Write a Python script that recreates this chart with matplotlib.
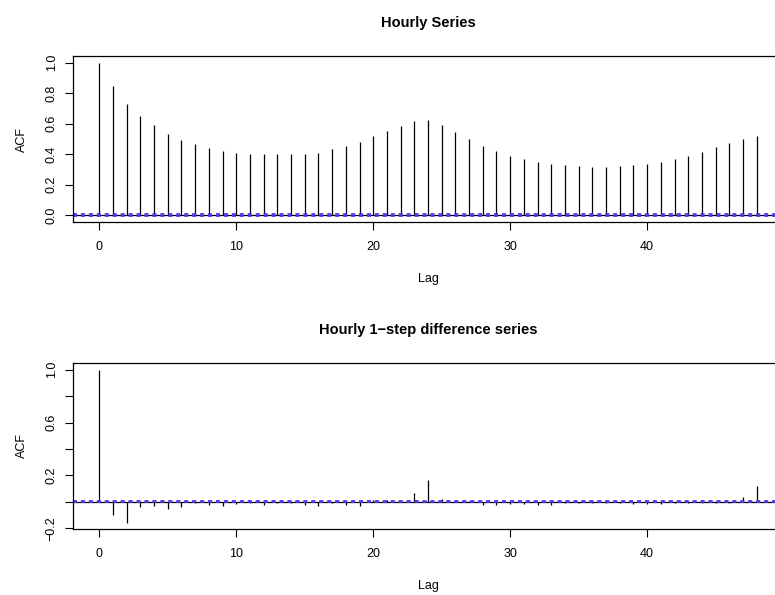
import matplotlib
matplotlib.use("Agg")
import matplotlib.pyplot as plt
import numpy as np

plt.rcParams['font.family'] = ['Liberation Sans', 'DejaVu Sans']

lags = list(range(49))
acf_hourly = [1.000, 0.849, 0.729, 0.652, 0.589, 0.532, 0.492, 0.464, 0.438, 0.418,
              0.407, 0.400, 0.398, 0.398, 0.398, 0.400, 0.409, 0.431, 0.451, 0.479,
              0.519, 0.554, 0.582, 0.615, 0.626, 0.589, 0.543, 0.497, 0.455, 0.420,
              0.389, 0.367, 0.346, 0.333, 0.326, 0.319, 0.317, 0.317, 0.319, 0.326,
              0.333, 0.346, 0.367, 0.387, 0.416, 0.444, 0.470, 0.501, 0.519]
acf_diff = [1.000, -0.101, -0.160, -0.038, -0.028, -0.053, -0.038, -0.008, -0.025, -0.031,
            -0.013, -0.008, -0.020, -0.006, -0.006, -0.025, -0.033, -0.005, -0.020, -0.031,
            0.012, 0.018, 0.005, 0.068, 0.163, 0.024, 0.004, 0.003, -0.021, -0.026,
            -0.015, -0.015, -0.025, -0.023, -0.006, -0.005, -0.006, -0.005, -0.008, -0.018,
            -0.019, -0.017, -0.006, -0.010, -0.006, -0.005, -0.006, 0.039, 0.121]
ci_hourly = 0.004
ci_diff = 0.004

titles = ["Hourly Series", "Hourly 1\u2212step difference series"]
xticks = [0, 10, 20, 30, 40]

W, H = 775, 595
fig = plt.figure(figsize=(W / 100, H / 100), dpi=100)

def px_axes(left, top, right, bottom):
    return fig.add_axes([left / W, 1 - bottom / H, (right - left) / W, (bottom - top) / H])

ax1 = px_axes(73, 56, 783, 222)
ax2 = px_axes(73, 363, 783, 529)

def draw(ax, vals, ci, title, ylim, yticks, ylabels):
    ax.vlines(lags, 0, vals, colors='black', linewidth=0.9)
    ax.axhline(0, color='black', linewidth=0.9)
    for c in (ci, -ci):
        ax.axhline(c, color='#5a2ff0', linewidth=1.3, linestyle=(0, (2.2, 2.2)))
    ax.set_xlim(-1.92, 49.92)
    ax.set_ylim(*ylim)
    ax.set_xticks(xticks)
    ax.set_xticklabels([str(t) for t in xticks], fontsize=9)
    ax.set_yticks(yticks)
    ax.set_yticklabels(ylabels, fontsize=9, rotation=90, va='center')
    ax.tick_params(axis='both', length=6, width=0.8, color='black')
    ax.tick_params(axis='x', pad=8)
    ax.tick_params(axis='y', pad=5)
    for s in ax.spines.values():
        s.set_linewidth(0.9)
    ax.set_title(title, fontsize=10.5, fontweight='bold', pad=21)
    ax.set_xlabel("Lag", fontsize=9, labelpad=14)
    ax.set_ylabel("ACF", fontsize=9, labelpad=13)

draw(ax1, acf_hourly, ci_hourly, titles[0], (-0.046, 1.044),
     [0, 0.2, 0.4, 0.6, 0.8, 1.0], ["0.0", "0.2", "0.4", "0.6", "0.8", "1.0"])
draw(ax2, acf_diff, ci_diff, titles[1], (-0.205, 1.05),
     [-0.2, 0.0, 0.2, 0.4, 0.6, 0.8, 1.0], ["\u22120.2", "", "0.2", "", "0.6", "", "1.0"])

fig.savefig("out.png", dpi=100)
